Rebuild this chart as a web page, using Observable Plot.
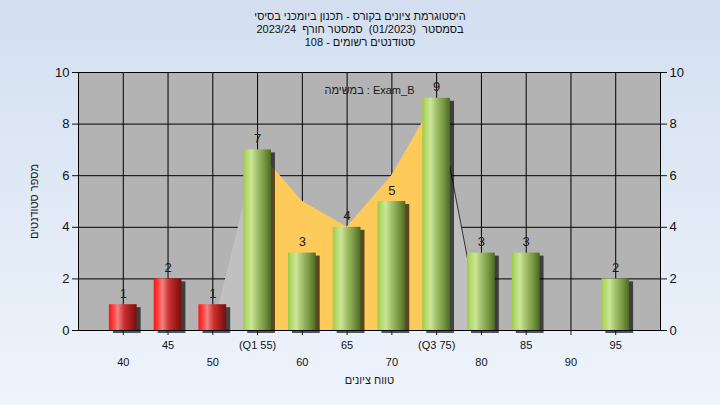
<!DOCTYPE html>
<html><head><meta charset="utf-8">
<script src="https://cdn.jsdelivr.net/npm/d3@7"></script>
<script src="https://cdn.jsdelivr.net/npm/@observablehq/plot@0.6"></script>
<style>
body{margin:0;}
#chart{position:relative;width:720px;height:405px;background:linear-gradient(#d3dff0,#eef4fc);overflow:hidden;font-family:"Liberation Sans",Arial,sans-serif;}
#title{position:absolute;top:10px;left:0;width:720px;text-align:center;font-size:11px;line-height:13px;color:#111;white-space:pre;}
#plot{position:absolute;left:0;top:56px;}
</style></head><body>
<div id="chart"><div id="title"></div><div id="plot"></div></div>
<script>
const grades = [40,45,50,55,60,65,70,75,80,85,90,95];
const counts = [1,2,1,7,3,4,5,9,3,3,0,2];
const tickLabels = ["40","45","50","(Q1 55)","60","65","70","(Q3 75)","80","85","90","95"];
const curveValues = [0,0,0,7,5,4,6,9,0,0,0,0];
const yTicks = [0,2,4,6,8,10];
const titleLines = ["היסטוגרמת ציונים בקורס - תכנון ביומכני בסיסי", "בסמסטר  (01/2023)  סמסטר חורף  2023/24", "סטודנטים רשומים - 108"];
const taskLabel = "במשימה : Exam_B";
const xTitle = "טווח ציונים";
const yTitle = "מספר סטודנטים";
const q1 = 55, q3 = 75, passMark = 55;

const title = document.getElementById("title");
titleLines.forEach(t => { const d = document.createElement("div"); d.textContent = t; title.appendChild(d); });

const bars = grades.map((g, i) => ({grade: g, count: counts[i]})).filter(d => d.count > 0);
const curve = grades.map((g, i) => ({grade: g, v: curveValues[i]}));
const half = 1.55;
const idx = g => grades.indexOf(g);

const chart = Plot.plot({
  width: 720, height: 349,
  marginLeft: 78, marginRight: 60, marginTop: 16, marginBottom: 75,
  style: {background: "transparent", color: "#111", fontFamily: "'Liberation Sans', Arial, sans-serif", fontSize: "12px"},
  x: {type: "linear", domain: [35, 100]},
  y: {domain: [0, 10]},
  marks: [
    Plot.frame({fill: "#b3b3b3"}),
    Plot.ruleY(yTicks, {stroke: "#000", strokeWidth: 1}),
    Plot.ruleX(grades, {stroke: "#000", strokeWidth: 1}),
    Plot.areaY(curve, {x: "grade", y: "v", fill: "#c0c0c0"}),
    Plot.areaY(curve.filter(d => d.grade >= q1 && d.grade <= q3), {x: "grade", y: "v", fill: "#fecb5a"}),
    Plot.lineY(curve.filter(d => d.grade >= q3 && d.grade <= q3 + 5), {x: "grade", y: "v", stroke: "#333", strokeWidth: 1}),
    Plot.rectY(bars, {x1: d => d.grade - half, x2: d => d.grade + half, y1: 0, y2: "count", dx: 4, dy: 3, fill: "#000", fillOpacity: 0.65, ariaLabel: "bar-shadow"}),
    Plot.rectY(bars.filter(d => d.grade < passMark), {x1: d => d.grade - half, x2: d => d.grade + half, y1: 0, y2: "count", fill: "url(#gRed)"}),
    Plot.rectY(bars.filter(d => d.grade >= passMark), {x1: d => d.grade - half, x2: d => d.grade + half, y1: 0, y2: "count", fill: "url(#gGreen)"}),
    Plot.text(bars, {x: "grade", y: "count", text: d => String(d.count), dy: -11, fontSize: 13, fill: "#1a1a1a"}),
    Plot.text([taskLabel], {frameAnchor: "top", dy: 14, fontSize: 11, fill: "#1a1a1a"}),
    Plot.frame({stroke: "#000"}),
    Plot.axisY({ticks: yTicks, tickSize: 6, tickPadding: 3, fontSize: 13, label: null}),
    Plot.axisY({anchor: "right", ticks: yTicks, tickSize: 6, tickPadding: 3, fontSize: 13, label: null}),
    Plot.axisX({ticks: grades.filter((d, i) => i % 2 === 1), tickFormat: d => tickLabels[idx(d)], tickSize: 5, tickPadding: 6, fontSize: 11, label: null}),
    Plot.axisX({ticks: grades.filter((d, i) => i % 2 === 0), tickFormat: d => tickLabels[idx(d)], tickSize: 5, tickPadding: 23, fontSize: 11, label: null}),
    Plot.text([xTitle], {frameAnchor: "bottom", dy: 53, fontSize: 11, fill: "#1a1a1a"}),
    Plot.text([yTitle], {frameAnchor: "left", textAnchor: "middle", dx: -44, rotate: -90, fontSize: 11, fill: "#1a1a1a"})
  ]
});

const svg = d3.select(chart);
const defs = svg.insert("defs", ":first-child");
function grad(id, stops) {
  const g = defs.append("linearGradient").attr("id", id).attr("x1", 0).attr("x2", 1).attr("y1", 0).attr("y2", 0);
  stops.forEach(([o, c]) => g.append("stop").attr("offset", o).attr("stop-color", c));
}
grad("gGreen", [[0, "#9ccb45"], [0.12, "#b3d96a"], [0.3, "#cbe59a"], [0.5, "#a4c16b"], [0.75, "#7a9a45"], [1, "#4c6a22"]]);
grad("gRed", [[0, "#ff1414"], [0.12, "#ff3434"], [0.32, "#f08282"], [0.55, "#cc3030"], [0.8, "#9e1a1a"], [1, "#741010"]]);
defs.append("filter").attr("id", "blur").attr("x", "-50%").attr("y", "-20%").attr("width", "200%").attr("height", "140%")
  .append("feGaussianBlur").attr("stdDeviation", 2);
svg.selectAll('g[aria-label="bar-shadow"]').attr("filter", "url(#blur)");

document.getElementById("plot").appendChild(chart);
</script>
</body></html>
